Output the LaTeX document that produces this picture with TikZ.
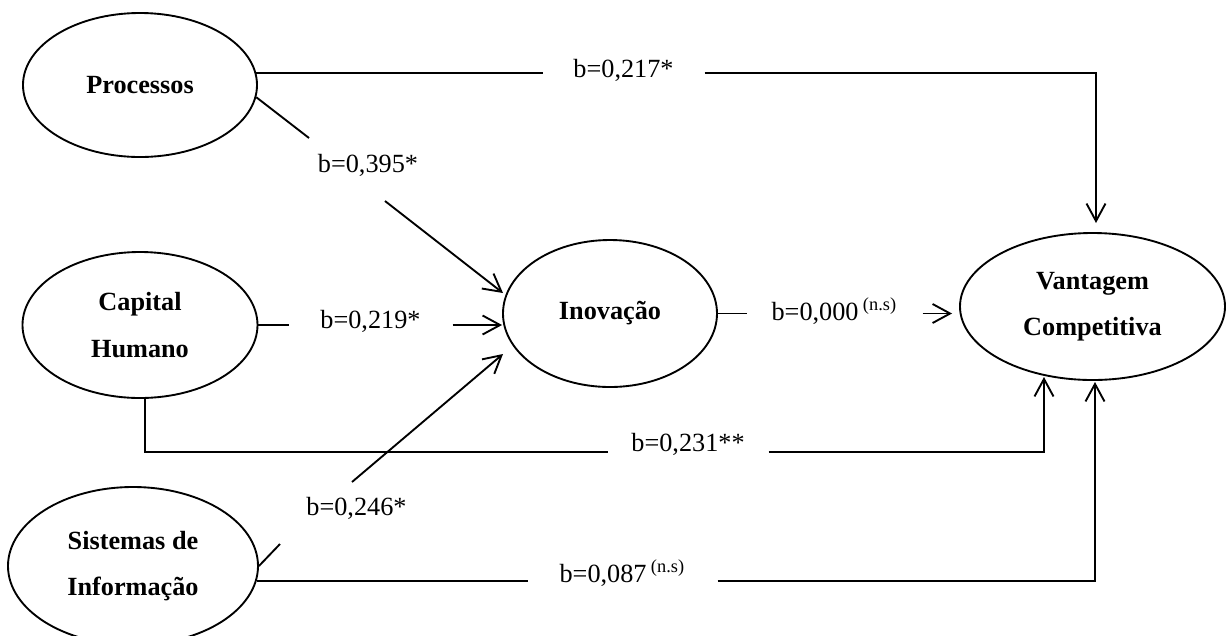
\documentclass[tikz,border=0pt]{standalone}
\usepackage{fontspec}
\setmainfont{Liberation Serif}
\usetikzlibrary{arrows.meta,calc,shapes.geometric}
\begin{document}
\begin{tikzpicture}[x=0.4pt,y=-0.4pt,
  construct/.style={draw, ellipse, line width=0.75pt, inner sep=0pt, align=center,
    font=\fontsize{10.5}{18.5}\selectfont\bfseries},
  coef/.style={inner sep=0pt, minimum height=12pt, font=\fontsize{10.5}{12}\selectfont},
  link/.style={line width=0.75pt},
  arr/.style={link, -{Straight Barb[length=7pt,width=7.6pt]}}]
\useasboundingbox (0,0) rectangle (1228,635);
% constructs
\node[construct, minimum width=93.6pt, minimum height=57.6pt] (P) at (140,85) {Processos};
\node[construct, minimum width=94pt, minimum height=58.4pt] (CH) at (140,325) {Capital\\Humano};
\node[construct, minimum width=100pt, minimum height=63.2pt] (SI) at (133,566) {Sistemas de\\Informação};
\node[construct, minimum width=85.6pt, minimum height=58.8pt] (I) at (610,313.5) {Inovação};
\node[construct, minimum width=106pt, minimum height=58.8pt] (V) at (1092.5,306.5) {Vantagem\\Competitiva};
% coefficient labels
\node[coef, minimum width=64.4pt] (l217) at (623.5,70) {b=0,217*};
\node[coef] (l395) at (368,165) {b=0,395*};
\node[coef, minimum width=65.2pt] (l219) at (370.5,321) {b=0,219*};
\node[coef, minimum width=70pt] (l000) at (834.5,311) {b=0,000\,\textsuperscript{(n.s)}};
\node[coef, minimum width=64pt] (l231) at (688,444) {b=0,231**};
\node[coef] (l246) at (356.5,508) {b=0,246*};
\node[coef, minimum width=75.6pt] (l087) at (622.5,573) {b=0,087\,\textsuperscript{(n.s)}};
% free ends and bends
\coordinate (vt) at (1096,223);
\coordinate (vb1) at (1044,377);
\coordinate (vb2) at (1095,382);
\coordinate (b1) at (145,452);
\coordinate (g1) at (309,138);
\coordinate (g2) at (385,201);
\coordinate (t1) at (503,293);
\coordinate (g3) at (280,544);
\coordinate (g4) at (352,482);
\coordinate (t3) at (503,354);
% Processos -> Vantagem
\draw[link] (P.6) -- (P.6 -| l217.west);
\draw[arr] (P.6 -| l217.east) -| (vt);
% Processos -> Inovacao
\draw[link] (P.-6) -- (g1);
\draw[arr] (g2) -- (t1);
% Capital Humano -> Inovacao
\draw[link] (CH.east) -- (CH.east -| l219.west);
\draw[arr] (CH.east -| l219.east) -- (CH.east -| I.west);
% Sistemas -> Inovacao
\draw[link] (SI.east) -- (g3);
\draw[arr] (g4) -- (t3);
% Inovacao -> Vantagem
\draw[link] (I.east) -- (I.east -| l000.west);
\draw[arr, shorten >=2.8pt] (I.east -| l000.east) -- (I.east -| V.west);
% Capital Humano -> Vantagem
\draw[link] (CH.south -| b1) -- (b1) -- (b1 -| l231.west);
\draw[arr] (b1 -| l231.east) -| (vb1);
% Sistemas -> Vantagem
\draw[link] (SI.-7.4) -- (SI.-7.4 -| l087.west);
\draw[arr] (SI.-7.4 -| l087.east) -| (vb2);
\end{tikzpicture}
\end{document}
